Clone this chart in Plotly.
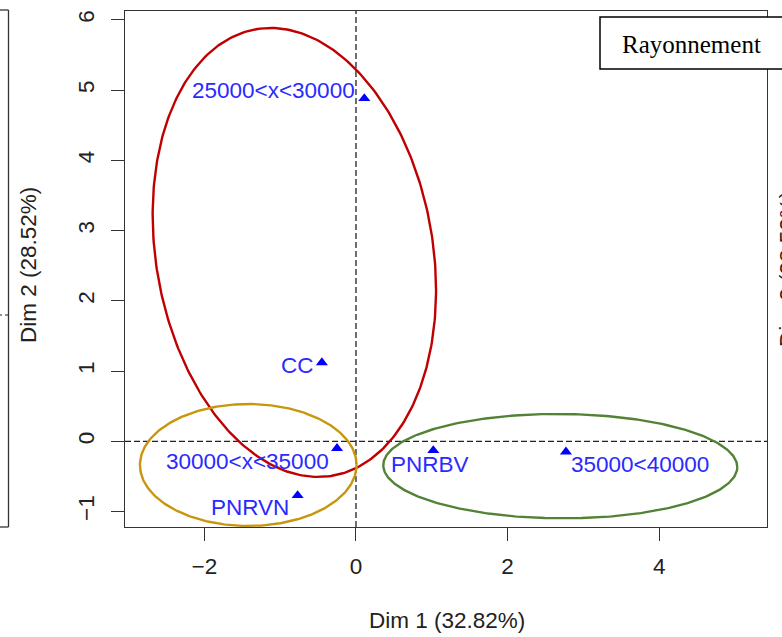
import numpy as np
import plotly.graph_objects as go

# Category coordinates on the first two dimensions
categories = ["25000<x<30000", "CC", "30000<x<35000", "PNRVN", "PNRBV", "35000<40000"]
dim1 = [0.11, -0.45, -0.25, -0.77, 1.02, 2.77]
dim2 = [4.88, 1.12, -0.10, -0.77, -0.13, -0.15]

# Group ellipses: centre and covariance (sxx, syy, sxy)
ellipse_colors = ["#C00000", "#C8960C", "#538135"]
ellipse_cx = [-0.813, -1.421, 2.695]
ellipse_cy = [2.688, -0.337, -0.354]
ellipse_sxx = [3.494, 2.042, 5.452]
ellipse_syy = [10.21, 0.753, 0.552]
ellipse_sxy = [-1.0, 0.0, -0.03]

x_ticks = [-2, 0, 2, 4]
y_ticks = [-1, 0, 1, 2, 3, 4, 5, 6]

# Label placement around each marker (pixel offsets)
label_style = {
    "25000<x<30000": dict(xanchor="right", xshift=-7, yshift=8),
    "CC": dict(xanchor="right", xshift=-6, yshift=-3),
    "30000<x<35000": dict(xanchor="right", xshift=-6, yshift=-13),
    "PNRVN": dict(xanchor="right", xshift=-7, yshift=-12),
    "PNRBV": dict(xanchor="center", xshift=-3, yshift=-14),
    "35000<40000": dict(xanchor="left", xshift=3, yshift=-13),
}

W, H = 782, 637
PX_L, PX_R, PX_T, PX_B = 125, 767, 11, 527


def paper_x(px):
    return (px - PX_L) / (PX_R - PX_L)


def paper_y(py):
    return (PX_B - py) / (PX_B - PX_T)


SANS = "Liberation Sans, Arial, sans-serif"
SERIF = "Liberation Serif, Times New Roman, serif"
INK = "#222222"

fig = go.Figure()

# Ellipses from the covariance of each group
t = np.linspace(0, 2 * np.pi, 361)
circle = np.vstack([np.cos(t), np.sin(t)])
for col, cx, cy, sxx, syy, sxy in zip(ellipse_colors, ellipse_cx, ellipse_cy,
                                      ellipse_sxx, ellipse_syy, ellipse_sxy):
    L = np.linalg.cholesky(np.array([[sxx, sxy], [sxy, syy]]))
    pts = L @ circle
    fig.add_trace(go.Scatter(
        x=cx + pts[0], y=cy + pts[1], mode="lines",
        line=dict(color=col, width=2.4), hoverinfo="skip", showlegend=False,
    ))

# Category markers
fig.add_trace(go.Scatter(
    x=dim1, y=dim2, mode="markers",
    marker=dict(symbol="triangle-up", size=10.5, color="#0000FF", line=dict(width=0)),
    text=categories, hoverinfo="text", showlegend=False,
))

annotations = []
for name, x, y in zip(categories, dim1, dim2):
    st = label_style[name]
    annotations.append(dict(
        x=x, y=y, xref="x", yref="y", showarrow=False,
        text=name.replace("<", "&lt;"), yanchor="middle",
        font=dict(family=SANS, size=22.5, color="#2A2AFF"), **st,
    ))

# Axis titles
annotations.append(dict(
    x=paper_x(446.5), y=paper_y(621), xref="paper", yref="paper",
    text="Dim 1 (32.82%)", showarrow=False, xanchor="center", yanchor="middle",
    font=dict(family=SANS, size=22.5, color=INK),
))
annotations.append(dict(
    x=paper_x(28), y=paper_y(265), xref="paper", yref="paper",
    text="Dim 2 (28.52%)", showarrow=False, textangle=-90,
    xanchor="center", yanchor="middle",
    font=dict(family=SANS, size=22.5, color=INK),
))
# Neighbouring panel's axis title on the right edge
annotations.append(dict(
    x=paper_x(787), y=paper_y(269), xref="paper", yref="paper",
    text="Dim 2 (28.52%)", showarrow=False, textangle=-90,
    xanchor="center", yanchor="middle",
    font=dict(family=SANS, size=22.5, color=INK),
))
# Legend box title
annotations.append(dict(
    x=paper_x(620), y=paper_y(44), xref="paper", yref="paper",
    text="Rayonnement", showarrow=False, xanchor="left", yanchor="middle",
    font=dict(family=SERIF, size=25, color="black"),
))

shapes = [
    # Reference lines through the origin
    dict(type="line", xref="x", yref="paper", x0=0, x1=0, y0=0, y1=1,
         line=dict(color=INK, width=1.3, dash="6px,3px"), layer="below"),
    dict(type="line", xref="paper", yref="y", x0=0, x1=1, y0=0, y1=0,
         line=dict(color=INK, width=1.3, dash="6px,3px"), layer="below"),
    # Legend box
    dict(type="rect", xref="paper", yref="paper",
         x0=paper_x(600), x1=paper_x(800), y0=paper_y(69), y1=paper_y(17),
         line=dict(color="black", width=1.5), fillcolor="white", layer="above"),
    # Neighbouring panel frame on the left edge
    dict(type="line", xref="paper", yref="paper",
         x0=paper_x(8.5), x1=paper_x(8.5), y0=paper_y(527), y1=paper_y(10),
         line=dict(color="#333333", width=1.3)),
    dict(type="line", xref="paper", yref="paper",
         x0=paper_x(-5), x1=paper_x(8.5), y0=paper_y(10), y1=paper_y(10),
         line=dict(color="#333333", width=1.3)),
    dict(type="line", xref="paper", yref="paper",
         x0=paper_x(-5), x1=paper_x(8.5), y0=paper_y(527), y1=paper_y(527),
         line=dict(color="#333333", width=1.3)),
    dict(type="line", xref="paper", yref="paper",
         x0=paper_x(-2), x1=paper_x(8.5), y0=paper_y(315), y1=paper_y(315),
         line=dict(color=INK, width=1.2, dash="4px,3px")),
]

axis_common = dict(
    showgrid=False, zeroline=False, showline=True, mirror=True,
    linecolor="#333333", linewidth=1.3,
    ticks="outside", ticklen=13, tickwidth=1.3, tickcolor="#333333",
    tickfont=dict(family=SANS, size=22.5, color=INK),
)

fig.update_layout(
    width=W, height=H,
    margin=dict(l=PX_L, r=W - PX_R, t=PX_T, b=H - PX_B, pad=0),
    paper_bgcolor="white", plot_bgcolor="white",
    xaxis=dict(range=[-3.047, 5.422], tickvals=x_ticks, ticklabelstandoff=6, **axis_common),
    yaxis=dict(range=[-1.22, 6.125], tickvals=y_ticks, tickangle=-90,
               ticklabelstandoff=8, **axis_common),
    annotations=annotations, shapes=shapes, showlegend=False,
)

fig.write_html("out.html", config={"displayModeBar": False})
